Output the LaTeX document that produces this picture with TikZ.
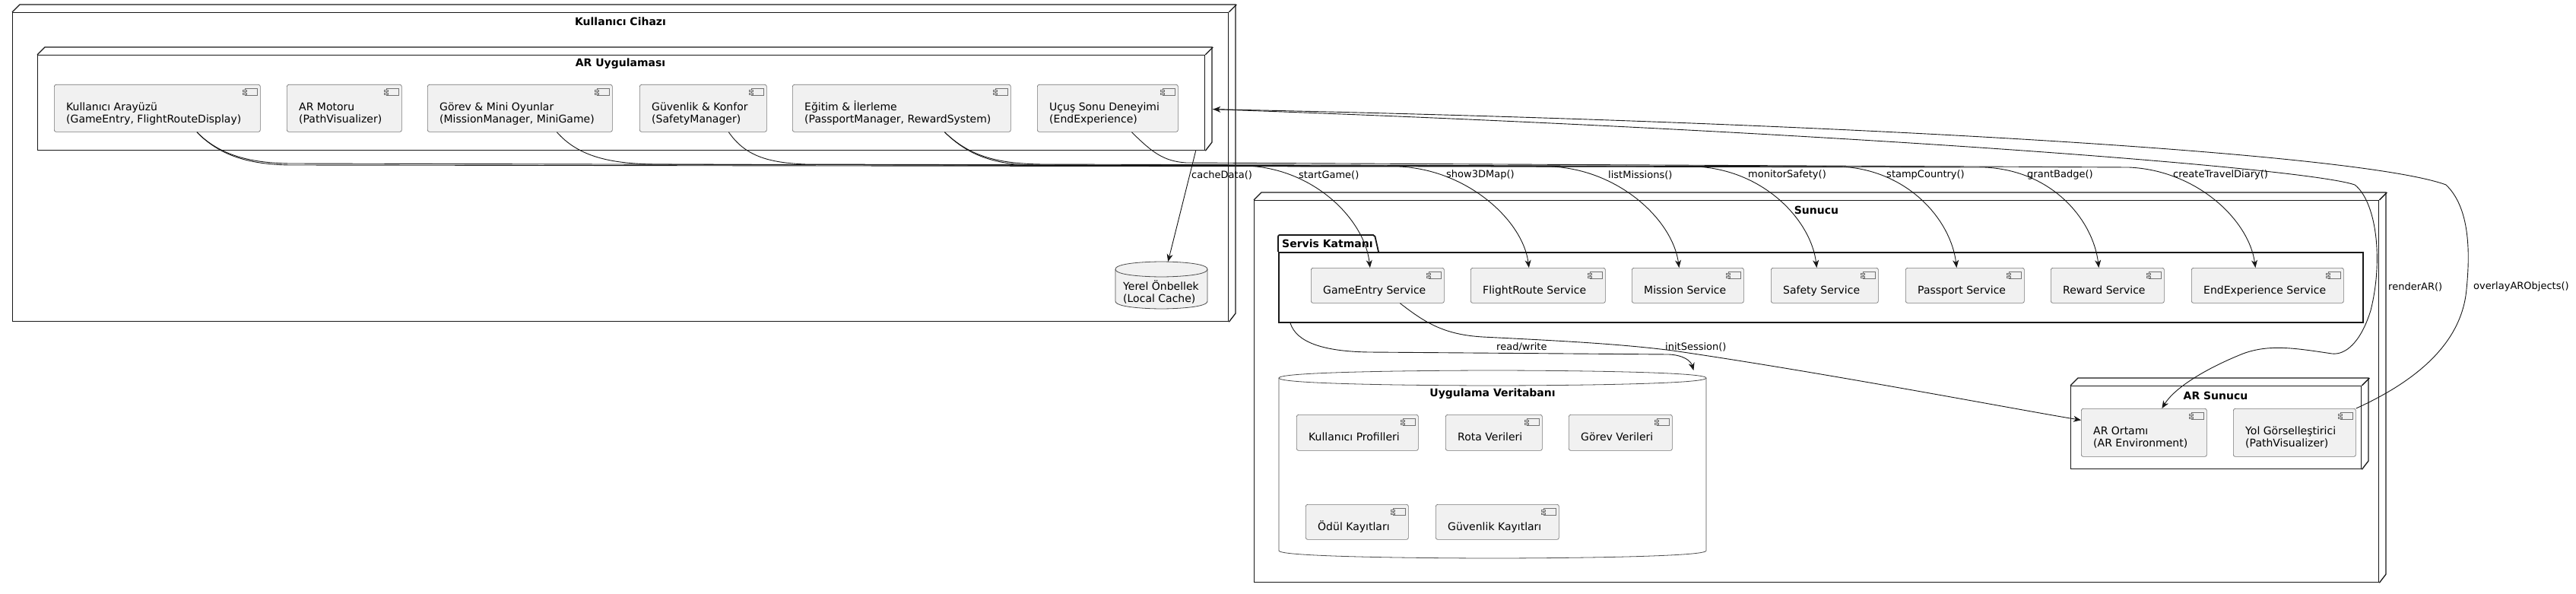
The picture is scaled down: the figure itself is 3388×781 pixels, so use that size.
\documentclass[tikz,border=0pt]{standalone}
\usepackage{fontspec}
\setmainfont{DejaVu Sans}
\usetikzlibrary{arrows.meta}
\definecolor{compfill}{HTML}{F1F1F1}
\definecolor{lineclr}{HTML}{181818}
\newcommand\comptxtfont{\fontsize{14}{16}\selectfont}
\newcommand\ttlfont{\fontsize{14}{16}\selectfont\bfseries}
\newcommand\lblfont{\fontsize{13}{15}\selectfont}
\newcommand\fixh{\rule{0pt}{13.5pt}}
\tikzset{
  nodeface/.style={draw=lineclr, line width=1.3pt, fill=white, inner sep=0pt, anchor=north west},
  nodeline/.style={draw=lineclr, line width=1.3pt, line join=miter},
  compbox/.style={draw=black!55, line width=0.7pt, fill=compfill, rounded corners=2.5pt, inner sep=0pt, anchor=north west},
  comptext/.style={font=\comptxtfont, align=left, inner sep=0pt, anchor=north west},
  iconline/.style={draw=black!55, line width=0.6pt},
  ttl/.style={font=\ttlfont, inner sep=0pt},
  lbl/.style={font=\lblfont, inner sep=0pt, anchor=west},
  dbline/.style={draw=black!70, line width=0.8pt},
  conn/.style={draw=lineclr, line width=0.9pt},
  arr/.style={conn, -{Stealth[length=10pt,width=8pt,inset=3pt]}},
}
% name, L, T, R, B, text
\newcommand\comp[6]{%
  \node[compbox, minimum width={#4-#2}, minimum height={#5-#3}] (#1) at (#2,#3) {};
  \node[comptext] (#1-t) at ([xshift=16pt,yshift=-20.5pt]#1.north west) {\fixh #6};
  \draw[iconline, fill=compfill] ([xshift=-20pt,yshift=-5pt]#1.north east) rectangle ([xshift=-4pt,yshift=-14pt]#1.north east);
  \draw[iconline, fill=compfill] ([xshift=-23pt,yshift=-7pt]#1.north east) rectangle ([xshift=-18pt,yshift=-9.5pt]#1.north east);
  \draw[iconline, fill=compfill] ([xshift=-23pt,yshift=-11pt]#1.north east) rectangle ([xshift=-18pt,yshift=-13.5pt]#1.north east);
}
% name, L, T(back top), R(back right), B
\newcommand\depnode[5]{%
  \node[nodeface, minimum width={#4-#2-10}, minimum height={#5-#3-10}] (#1) at (#2,#3+10) {};
  \draw[nodeline] (#1.north west) -- ++(10,-10) -- ++({#4-#2-10},0) -- ++(0,{#5-#3-10}) -- (#1.south east);
  \draw[nodeline] (#1.north east) -- ++(10,-10);
}
% name, L, T, R, B, fill
\newcommand\dbshape[6]{%
  \node[inner sep=0pt, anchor=north west, minimum width={#4-#2}, minimum height={#5-#3}] (#1) at (#2,#3) {};
  \pgfmathsetmacro\dbmid{(#2+#4)/2}
  \draw[dbline, fill=#6] (#2,#3+10) .. controls (#2,#3) and (\dbmid,#3) .. (\dbmid,#3) .. controls (\dbmid,#3) and (#4,#3) .. (#4,#3+10) -- (#4,#5-10) .. controls (#4,#5) and (\dbmid,#5) .. (\dbmid,#5) .. controls (\dbmid,#5) and (#2,#5) .. (#2,#5-10) -- cycle;
  \draw[dbline] (#2,#3+10) .. controls (#2,#3+20) and (\dbmid,#3+20) .. (\dbmid,#3+20) .. controls (\dbmid,#3+20) and (#4,#3+20) .. (#4,#3+10);
}
\begin{document}
\begin{tikzpicture}[x=1pt,y=-1pt]
\useasboundingbox[fill=white] (0,0) rectangle (3388,781);

% ---------- Kullanici Cihazi ----------
\depnode{kc}{16}{6}{1625}{422}
\node[ttl] (kc-t) at (816,28) {Kullanıcı Cihazı};
\depnode{aru}{49}{62}{1594}{197}
\node[ttl] (aru-t) at (816,84) {AR Uygulaması};

\comp{ui}{71}{111}{342}{173}{Kullanıcı Arayüzü\\(GameEntry, FlightRouteDisplay)}
\comp{arm}{377}{111}{528}{173}{AR Motoru\\(PathVisualizer)}
\comp{gmo}{562}{111}{805}{173}{Görev \& Mini Oyunlar\\(MissionManager, MiniGame)}
\comp{gk}{841}{111}{1008}{173}{Güvenlik \& Konfor\\(SafetyManager)}
\comp{ei}{1042}{111}{1329}{173}{Eğitim \& İlerleme\\(PassportManager, RewardSystem)}
\comp{usd}{1364}{111}{1549}{173}{Uçuş Sonu Deneyimi\\(EndExperience)}

\dbshape{lc}{1467}{344}{1588}{406}{compfill}
\node[comptext] (lc-t) at (1477,368.2) {\fixh Yerel Önbellek\\(Local Cache)};

% ---------- Sunucu ----------
\depnode{sun}{1649}{253}{3138}{765}
\node[ttl] (sun-t) at (2389,276) {Sunucu};

\draw[draw=lineclr, line width=1.8pt, fill=white, rounded corners=2pt] (1681,331) -- (1681,309) -- (1808,309) -- (1813,331);
\node[draw=lineclr, line width=1.8pt, fill=white, inner sep=0pt, anchor=north west, minimum width=1426, minimum height=92] (sk) at (1681,331) {};
\node[ttl, anchor=west] (sk-t) at (1686,320) {Servis Katmanı};

\comp{ges}{1724}{352}{1899}{398}{GameEntry Service}
\comp{frs}{1934}{352}{2111}{398}{FlightRoute Service}
\comp{mss}{2146}{352}{2293}{398}{Mission Service}
\comp{sfs}{2329}{352}{2470}{398}{Safety Service}
\comp{pps}{2506}{352}{2662}{398}{Passport Service}
\comp{rws}{2697}{352}{2846}{398}{Reward Service}
\comp{ees}{2882}{352}{3082}{398}{EndExperience Service}

\dbshape{udb}{1682}{487}{2244}{734}{white}
\node[ttl] (udb-t) at (1963,518) {Uygulama Veritabanı};
\comp{kp}{1705}{545}{1865}{592}{Kullanıcı Profilleri}
\comp{rv}{1901}{545}{2028}{592}{Rota Verileri}
\comp{gv}{2063}{545}{2199}{592}{Görev Verileri}
\comp{odk}{1717}{663}{1852}{709}{Ödül Kayıtları}
\comp{gky}{1888}{663}{2050}{709}{Güvenlik Kayıtları}

\depnode{ars}{2723}{497}{3115}{616}
\node[ttl] (ars-t) at (2914,520) {AR Sunucu};
\comp{ar}{2737}{537}{2902}{600}{AR Ortamı\\(AR Environment)}
\comp{yg}{2937}{537}{3098}{600}{Yol Görselleştirici\\(PathVisualizer)}

% ---------- connectors ----------
\draw[arr] ([xshift=52pt]ui.south) .. controls (290,205) and (330,214) .. (380,215) -- (1640,218) .. controls (1730,222) and (1795,290) .. ([xshift=-10pt]ges.north);
\draw[arr] ([xshift=52pt]ui.south) .. controls (290,206) and (330,216) .. (380,217) -- (1840,219) .. controls (1930,223) and (2003,290) .. ([xshift=-12pt]frs.north);
\draw[arr] ([xshift=48.5pt]gmo.south) .. controls (760,205) and (800,215) .. (860,216) -- (2040,219) .. controls (2130,223) and (2200,290) .. ([xshift=-11.5pt]mss.north);
\draw[arr] ([xshift=33.5pt]gk.south) .. controls (980,205) and (1010,214) .. (1060,216) -- (2230,219) .. controls (2320,223) and (2382,290) .. ([xshift=-10.5pt]sfs.north);
\draw[arr] ([xshift=56.5pt]ei.south) .. controls (1275,205) and (1310,215) .. (1370,216) -- (2420,219) .. controls (2510,223) and (2566,290) .. ([xshift=-11pt]pps.north);
\draw[arr] ([xshift=56.5pt]ei.south) .. controls (1275,206) and (1310,217) .. (1370,218) -- (2610,220) .. controls (2700,224) and (2753,290) .. ([xshift=-11.5pt]rws.north);
\draw[arr] ([xshift=31.5pt]usd.south) .. controls (1515,200) and (1530,212) .. (1560,214) -- (2800,220) .. controls (2890,224) and (2958,290) .. ([xshift=-16pt]ees.north);

\draw[arr] ([xshift=755.5pt]aru.south) -- ([xshift=8.5pt]lc.north);

\draw[arr] ([xshift=10pt,yshift=-8.5pt]aru.east) .. controls (2400,172) and (3030,220) .. (3097,243) .. controls (3125,265) and (3135,340) .. (3118,408) .. controls (3105,450) and (3085,467) .. (3067,465) .. controls (3020,458) and (2985,452) .. (2950,465) .. controls (2900,485) and (2860,510) .. ([xshift=23.5pt]ar.north);
\draw[arr] (yg.north east) .. controls (3180,500) and (3238,450) .. (3244,380) .. controls (3250,320) and (3245,270) .. (3217,243) .. controls (3100,200) and (2400,160) .. ([xshift=10pt,yshift=-8.5pt]aru.east);

\draw[arr] ([xshift=16pt]sk.south west) .. controls (1705,450) and (1740,462) .. (1800,463) -- (2195,466) .. controls (2215,467) and (2224,475) .. ([xshift=-17pt]udb.north east);
\draw[arr] ([xshift=29.5pt]ges.south) .. controls (1875,425) and (1900,440) .. (1950,443) .. controls (2050,448) and (2130,452) .. (2200,461) .. controls (2400,490) and (2650,538) .. ([yshift=16.5pt]ar.west);

% ---------- labels ----------
\node[lbl] (l-cache) at (1567,230) {cacheData()};
\node[lbl] (l-start) at (1708,230) {startGame()};
\node[lbl] (l-map) at (1902,230) {show3DMap()};
\node[lbl] (l-miss) at (2115,230) {listMissions()};
\node[lbl] (l-safe) at (2299,230) {monitorSafety()};
\node[lbl] (l-stamp) at (2481,230) {stampCountry()};
\node[lbl] (l-badge) at (2666,230) {grantBadge()};
\node[lbl] (l-diary) at (2858,230) {createTravelDiary()};
\node[lbl] (l-render) at (3141,377) {renderAR()};
\node[lbl] (l-overlay) at (3253,377) {overlayARObjects()};
\node[lbl] (l-rw) at (1968,456) {read/write};
\node[lbl] (l-init) at (2190,456) {initSession()};
\end{tikzpicture}
\end{document}
